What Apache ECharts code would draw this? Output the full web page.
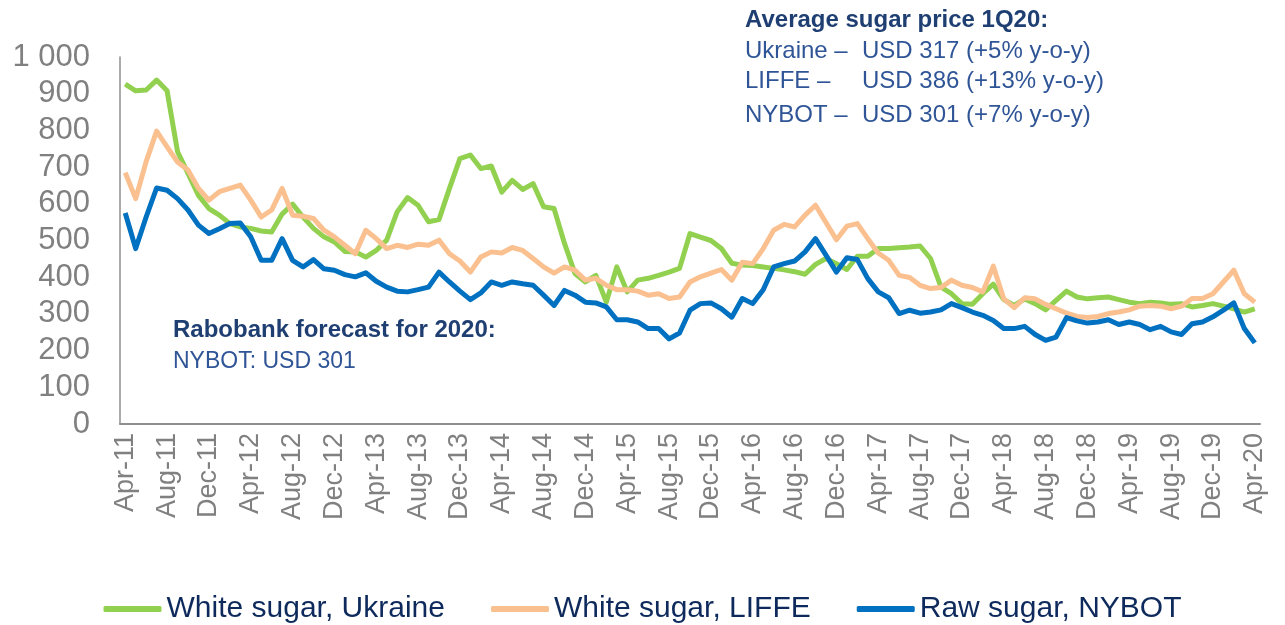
<!DOCTYPE html>
<html>
<head>
<meta charset="utf-8">
<title>Sugar prices</title>
<script src="https://cdn.jsdelivr.net/npm/echarts@6/dist/echarts.min.js"></script>
<style>
  html, body { margin: 0; padding: 0; background: #fff; }
  #chart { width: 1285px; height: 625px; }
</style>
</head>
<body>
<div id="chart"></div>
<script>
// monthly categories, Apr-11 .. Apr-20
const monthNames = ['Jan', 'Feb', 'Mar', 'Apr', 'May', 'Jun', 'Jul', 'Aug', 'Sep', 'Oct', 'Nov', 'Dec']
const firstMonth = 3   // April
const firstYear = 11
const monthCount = 109

const ukraine = [
  926, 908, 910, 937, 908, 742, 683, 623, 587, 569, 546, 537,
  533, 526, 523, 572, 599, 564, 533, 510, 496, 470, 469, 455,
  473, 501, 578, 617, 596, 551, 557, 642, 723, 733, 696, 703,
  632, 664, 639, 655, 592, 587, 492, 410, 387, 405, 332, 428,
  360, 392, 397, 405, 414, 424, 519, 509, 500, 478, 438, 433,
  432, 428, 424, 420, 415, 408, 435, 451, 437, 421, 457, 457,
  478, 478, 480, 482, 485, 451, 373, 355, 328, 326, 355, 381,
  339, 323, 341, 328, 311, 337, 362, 346, 341, 344, 346, 339,
  332, 328, 332, 330, 326, 328, 319, 323, 328, 321, 314, 305,
  314
]

const liffe = [
  685, 614, 715, 798, 755, 714, 692, 642, 610, 633, 642, 651,
  610, 564, 583, 642, 569, 566, 560, 528, 510, 487, 464, 528,
  505, 478, 487, 481, 490, 487, 501, 464, 444, 414, 455, 469,
  466, 481, 473, 451, 428, 411, 428, 419, 392, 397, 378, 366,
  366, 362, 351, 355, 342, 346, 387, 401, 411, 421, 392, 441,
  437, 478, 528, 544, 537, 569, 596, 549, 502, 539, 546, 505,
  466, 446, 405, 399, 378, 369, 372, 392, 378, 372, 360, 430,
  341, 317, 344, 341, 326, 314, 302, 293, 290, 293, 301, 305,
  311, 321, 323, 321, 314, 321, 342, 342, 355, 387, 419, 355,
  332
]

const nybot = [
  575, 478, 564, 643, 637, 614, 583, 542, 519, 532, 546, 548,
  510, 446, 446, 505, 446, 428, 448, 423, 419, 407, 401, 412,
  389, 373, 362, 360, 366, 373, 414, 387, 362, 339, 357, 387,
  378, 387, 382, 378, 351, 323, 364, 351, 332, 330, 319, 284,
  284, 278, 260, 260, 232, 248, 310, 328, 330, 314, 291, 342,
  328, 366, 428, 437, 444, 469, 505, 460, 414, 453, 448, 396,
  360, 344, 301, 310, 302, 305, 311, 328, 317, 305, 296, 282,
  260, 260, 266, 244, 228, 237, 290, 281, 275, 278, 284, 271,
  278, 271, 257, 266, 251, 244, 273, 278, 292, 310, 330, 260,
  221
]

const seriesNames = ['White sugar, Ukraine', 'White sugar, LIFFE', 'Raw sugar, NYBOT']
const seriesColors = ['#92d050', '#fac090', '#0070c0']

const noteTitle = 'Average sugar price 1Q20:'
const noteLabels = ['Ukraine \u2013', 'LIFFE \u2013', 'NYBOT \u2013']
const noteValues = ['USD 317 (+5% y-o-y)', 'USD 386 (+13% y-o-y)', 'USD 301 (+7% y-o-y)']
const forecastTitle = 'Rabobank forecast for 2020:'
const forecastText = 'NYBOT: USD 301'

const categories = []
for (let i = 0; i < monthCount; i++) {
  const m = firstMonth + i
  categories.push(monthNames[m % 12] + '-' + (firstYear + Math.floor(m / 12)))
}

const chart = echarts.init(document.getElementById('chart'))

const noteGraphics = [
  { type: 'text', left: 745, top: 8, style: { text: noteTitle, fill: '#1f3f73', font: 'bold 24px "Liberation Sans", Arial, sans-serif' } }
]
const noteTops = [39, 69, 103]
noteLabels.forEach((label, k) => {
  noteGraphics.push({ type: 'text', left: 745, top: noteTops[k], style: { text: label, fill: '#2f5597', font: '24px "Liberation Sans", Arial, sans-serif' } })
  noteGraphics.push({ type: 'text', left: 862, top: noteTops[k], style: { text: noteValues[k], fill: '#2f5597', font: '24px "Liberation Sans", Arial, sans-serif' } })
})
noteGraphics.push({ type: 'text', left: 173, top: 318, style: { text: forecastTitle, fill: '#1f3f73', font: 'bold 24px "Liberation Sans", Arial, sans-serif' } })
noteGraphics.push({ type: 'text', left: 173, top: 350, style: { text: forecastText, fill: '#2f5597', font: '23px "Liberation Sans", Arial, sans-serif' } })

const option = {
  animation: false,
  backgroundColor: '#ffffff',
  textStyle: { fontFamily: '"Liberation Sans", Arial, sans-serif' },
  grid: { left: 120, right: 25, top: 57, bottom: 201 },
  legend: {
    data: seriesNames,
    left: 'center',
    top: 589,
    icon: 'roundRect',
    itemWidth: 58,
    itemHeight: 6,
    itemGap: 46,
    textStyle: { fontSize: 30, color: '#0e2a5c' }
  },
  xAxis: {
    type: 'category',
    data: categories,
    boundaryGap: true,
    axisLine: { lineStyle: { color: '#8f8f8f', width: 2 } },
    axisTick: { show: false },
    axisLabel: { interval: 3, rotate: 90, margin: 9, fontSize: 27, color: '#808080' },
    splitLine: { show: false }
  },
  yAxis: {
    type: 'value',
    min: 0,
    max: 1000,
    interval: 100,
    axisLine: { show: true, lineStyle: { color: '#8f8f8f', width: 1.5 } },
    axisTick: { show: false },
    splitLine: { show: false },
    axisLabel: {
      margin: 30,
      fontSize: 31,
      color: '#808080',
      formatter: (v) => v >= 1000 ? '1 000' : String(v)
    }
  },
  series: [
    { name: seriesNames[0], type: 'line', data: ukraine, symbol: 'none', color: seriesColors[0], lineStyle: { width: 5, join: 'round' } },
    { name: seriesNames[1], type: 'line', data: liffe, symbol: 'none', color: seriesColors[1], lineStyle: { width: 5, join: 'round' } },
    { name: seriesNames[2], type: 'line', data: nybot, symbol: 'none', color: seriesColors[2], lineStyle: { width: 5, join: 'round' } }
  ],
  graphic: noteGraphics
}

chart.setOption(option)
</script>
</body>
</html>
